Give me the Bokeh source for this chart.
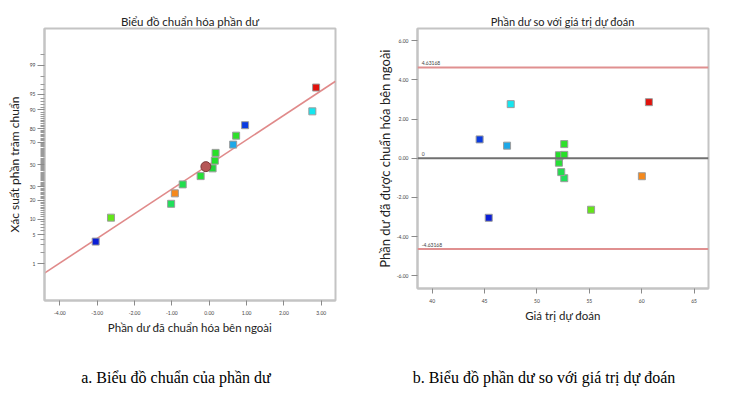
from statistics import NormalDist
from bokeh.plotting import figure
from bokeh.models import (ColumnDataSource, FixedTicker, PrintfTickFormatter, Span, Label, Div)
from bokeh.layouts import row, column
from bokeh.embed import file_html
from bokeh.resources import INLINE

# ---------------- data ----------------
residuals = [-3.04, -2.63, -1.02, -0.92, -0.71, -0.23, 0.09, 0.15, 0.17, 0.64, 0.72, 0.96, 2.76, 2.86]
normal_pct = [3.57, 10.7, 17.9, 25.0, 32.1, 39.3, 46.4, 53.6, 60.7, 67.9, 75.0, 82.1, 89.3, 96.4]
predicted = [45.40, 55.17, 52.61, 60.02, 52.32, 52.10, 52.15, 52.10, 52.61, 47.15, 52.61, 44.53, 47.50, 60.69]
point_colors = ["#0b1ed6", "#63e619", "#1fe05a", "#f5891c", "#20de4d", "#25e035", "#22d63a",
                "#22e02a", "#28e028", "#1da8e8", "#2ee02a", "#0a3be0", "#14e6ef", "#e0120c"]
highlight_x = [-0.09]
highlight_pct = [48.0]
fit_slope = 0.576
fit_intercept = 0.0
pct_ticks = [1, 5, 10, 20, 30, 50, 70, 80, 90, 95, 99]
x1_ticks = [-4, -3, -2, -1, 0, 1, 2, 3]
x2_ticks = [40, 45, 50, 55, 60, 65]
y2_ticks = [-6, -4, -2, 0, 2, 4, 6]
limit = 4.63168

FONT = "Lato"
nd = NormalDist()
z = lambda p: nd.inv_cdf(p / 100.0)

def style_axes(p):
    for ax in (p.xaxis[0], p.yaxis[0]):
        ax.axis_line_color = "#c4c4c4"
        ax.axis_line_width = 2
        ax.major_tick_line_color = "#8a8a8a"
        ax.minor_tick_line_color = "#9a9a9a"
        ax.major_tick_in = 0
        ax.minor_tick_in = 0
        ax.major_label_text_font = FONT
        ax.major_label_text_font_size = "5px"
        ax.major_label_text_color = "#444444"
        ax.axis_label_text_font = FONT
        ax.axis_label_text_font_style = "normal"
        ax.axis_label_text_color = "#222222"
    p.xgrid.visible = False
    p.ygrid.visible = False
    p.outline_line_color = "#c4c4c4"
    p.outline_line_width = 2
    p.title.align = "center"
    p.title.text_font = FONT
    p.title.text_font_size = "11px"
    p.title.text_font_style = "normal"
    p.title.text_color = "#222222"
    p.title.standoff = 2

# ---------------- figure 1 ----------------
x1_range = (-4.41, 3.38)
p1 = figure(output_backend="svg", toolbar_location=None, frame_width=291, frame_height=272,
            min_border_left=44, min_border_right=33, min_border_top=28, min_border_bottom=69,
            x_range=x1_range, y_range=(-3.18, 3.18), title="Biểu đồ chuẩn hóa phần dư")
style_axes(p1)
p1.title.offset = -9
p1.title.text_font_size = "11.5px"
minor = [z(v) for v in list(range(2, 99)) + [99.5] if v not in pct_ticks]
p1.yaxis.ticker = FixedTicker(ticks=[z(v) for v in pct_ticks], minor_ticks=minor)
p1.yaxis.major_label_overrides = {z(v): str(v) for v in pct_ticks}
p1.yaxis.major_tick_out = 7
p1.yaxis.minor_tick_out = 4
p1.yaxis.major_label_standoff = 2
p1.yaxis.axis_label = "Xác suất phần trăm chuẩn"
p1.yaxis.axis_label_text_font_size = "12px"
p1.yaxis.axis_label_standoff = 5
p1.xaxis.ticker = FixedTicker(ticks=x1_ticks, minor_ticks=[])
p1.xaxis.formatter = PrintfTickFormatter(format="%.2f")
p1.xaxis.major_tick_out = 5
p1.xaxis.major_label_standoff = 5
p1.xaxis.axis_label = "Phần dư đã chuẩn hóa bên ngoài"
p1.xaxis.axis_label_text_font_size = "11.5px"
p1.xaxis.axis_label_standoff = 3

fx = list(x1_range)
p1.line(fx, [fit_intercept + fit_slope * v for v in fx], line_color="#e08a8a", line_width=1.6)
src1 = ColumnDataSource(dict(x=residuals, y=[z(v) for v in normal_pct], c=point_colors))
p1.scatter("x", "y", source=src1, marker="square", size=7, fill_color="c",
           line_color="#9c9c9c", line_width=1)
p1.scatter(highlight_x, [z(v) for v in highlight_pct], marker="circle", size=10,
           fill_color="#b65656", line_color="#7d3a3a", line_width=1)

# ---------------- figure 2 ----------------
p2 = figure(output_backend="svg", toolbar_location=None, frame_width=291, frame_height=260,
            min_border_left=49, min_border_right=16, min_border_top=28, min_border_bottom=81,
            x_range=(38.6, 66.38), y_range=(-6.65, 6.62), title="Phần dư so với giá trị dự đoán")
style_axes(p2)
p2.yaxis.ticker = FixedTicker(ticks=y2_ticks, minor_ticks=[])
p2.yaxis.formatter = PrintfTickFormatter(format="%.2f")
p2.yaxis.major_tick_out = 6
p2.yaxis.major_label_standoff = 3
p2.yaxis.axis_label = "Phần dư đã được chuẩn hóa bên ngoài"
p2.yaxis.axis_label_text_font_size = "13px"
p2.yaxis.axis_label_standoff = 1
p2.xaxis.ticker = FixedTicker(ticks=x2_ticks, minor_ticks=[])
p2.xaxis.major_tick_out = 5
p2.xaxis.major_label_standoff = 5
p2.xaxis.axis_label = "Giá trị dự đoán"
p2.xaxis.axis_label_text_font_size = "11.5px"
p2.xaxis.axis_label_standoff = 3

for val, col in ((limit, "#e09090"), (-limit, "#e09090"), (0, "#707070")):
    p2.add_layout(Span(location=val, dimension="width", line_color=col, line_width=2))
for val, txt in ((limit, "4.63168"), (-limit, "-4.63168"), (0, "0")):
    p2.add_layout(Label(x=39.0, y=val, text=txt, text_font=FONT, text_font_size="5px",
                        text_color="#444444", y_offset=2, text_baseline="bottom"))
src2 = ColumnDataSource(dict(x=predicted, y=residuals, c=point_colors))
p2.scatter("x", "y", source=src2, marker="square", size=7, fill_color="c",
           line_color="#9c9c9c", line_width=1)

# ---------------- captions ----------------
def caption(txt, w, pad_right):
    return Div(text=('<div style="width:%dpx;text-align:center;font-family:\'Liberation Serif\';'
                     'font-size:16px;line-height:18px;color:#000;padding-right:%dpx;box-sizing:border-box">%s</div>'
                     % (w, pad_right, txt)), width=w, height=17, margin=(0, 0, 0, 0))

layout = column(row(p1, p2, spacing=0),
                row(caption("a. Biểu đồ chuẩn của phần dư", 368, 16),
                    caption("b. Biểu đồ phần dư so với giá trị dự đoán", 356, 4), spacing=0),
                spacing=0)

open("out.html", "w").write(file_html(layout, INLINE))
